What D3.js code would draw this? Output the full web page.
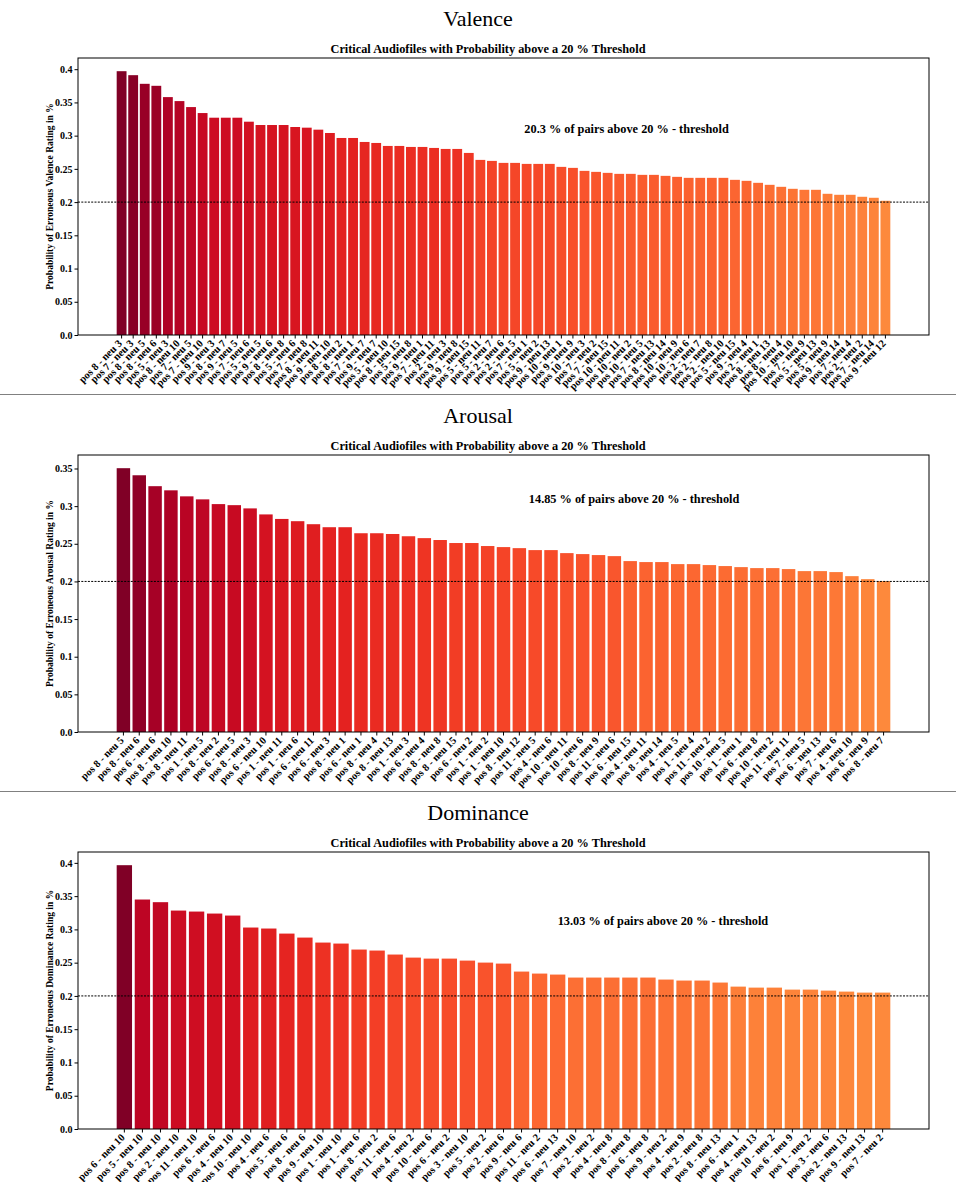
<!DOCTYPE html>
<html><head><meta charset="utf-8">
<script src="https://cdn.jsdelivr.net/npm/d3@7"></script>
<style>
body{margin:0;background:#fff}
text{font-family:"Liberation Serif","Times New Roman",serif}
</style>
</head><body>
<svg id="chart" width="956" height="1182"></svg>
<script>
// ---------------- DATA ----------------
const valenceLabels = ["pos 8 - neu 3","pos 7 - neu 3","pos 8 - neu 5","pos 8 - neu 6","pos 5 - neu 3","pos 8 - neu 10","pos 7 - neu 5","pos 7 - neu 10","pos 9 - neu 3","pos 8 - neu 7","pos 9 - neu 5","pos 7 - neu 6","pos 5 - neu 5","pos 9 - neu 6","pos 8 - neu 8","pos 5 - neu 6","pos 7 - neu 8","pos 8 - neu 11","pos 9 - neu 10","pos 8 - neu 2","pos 8 - neu 1","pos 7 - neu 7","pos 9 - neu 7","pos 5 - neu 10","pos 8 - neu 15","pos 5 - neu 8","pos 9 - neu 1","pos 7 - neu 11","pos 2 - neu 3","pos 9 - neu 8","pos 9 - neu 15","pos 5 - neu 11","pos 5 - neu 7","pos 2 - neu 6","pos 2 - neu 5","pos 7 - neu 1","pos 5 - neu 2","pos 9 - neu 13","pos 10 - neu 1","pos 9 - neu 9","pos 10 - neu 3","pos 7 - neu 2","pos 7 - neu 15","pos 10 - neu 11","pos 10 - neu 2","pos 10 - neu 5","pos 7 - neu 13","pos 8 - neu 14","pos 10 - neu 9","pos 10 - neu 6","pos 2 - neu 7","pos 2 - neu 8","pos 2 - neu 10","pos 5 - neu 15","pos 9 - neu 4","pos 2 - neu 1","pos 8 - neu 13","pos 8 - neu 4","pos 10 - neu 10","pos 7 - neu 9","pos 5 - neu 13","pos 5 - neu 9","pos 9 - neu 14","pos 7 - neu 4","pos 2 - neu 2","pos 7 - neu 14","pos 9 - neu 12"];
const valenceValues = [0.397,0.391,0.378,0.375,0.358,0.352,0.343,0.334,0.327,0.327,0.327,0.321,0.316,0.316,0.316,0.313,0.312,0.309,0.304,0.2965,0.2965,0.2905,0.289,0.2845,0.2845,0.283,0.283,0.2815,0.280,0.280,0.274,0.2635,0.262,0.259,0.259,0.2575,0.2575,0.2575,0.253,0.2515,0.247,0.2455,0.244,0.2425,0.2425,0.241,0.241,0.2395,0.238,0.2365,0.2365,0.2365,0.2365,0.2335,0.232,0.229,0.226,0.223,0.220,0.2185,0.2185,0.2125,0.211,0.211,0.208,0.2065,0.202];

const arousalLabels = ["pos 8 - neu 5","pos 8 - neu 6","pos 6 - neu 6","pos 8 - neu 10","pos 8 - neu 11","pos 1 - neu 5","pos 8 - neu 2","pos 6 - neu 5","pos 8 - neu 3","pos 6 - neu 10","pos 1 - neu 11","pos 1 - neu 6","pos 6 - neu 11","pos 6 - neu 3","pos 8 - neu 1","pos 6 - neu 1","pos 8 - neu 4","pos 8 - neu 13","pos 1 - neu 3","pos 6 - neu 4","pos 8 - neu 8","pos 8 - neu 15","pos 6 - neu 2","pos 1 - neu 2","pos 1 - neu 10","pos 8 - neu 12","pos 11 - neu 5","pos 4 - neu 6","pos 10 - neu 11","pos 10 - neu 6","pos 8 - neu 9","pos 11 - neu 6","pos 6 - neu 15","pos 4 - neu 11","pos 8 - neu 14","pos 4 - neu 5","pos 1 - neu 4","pos 11 - neu 2","pos 10 - neu 5","pos 1 - neu 1","pos 6 - neu 8","pos 10 - neu 2","pos 11 - neu 11","pos 7 - neu 5","pos 6 - neu 13","pos 7 - neu 6","pos 4 - neu 10","pos 6 - neu 9","pos 8 - neu 7"];
const arousalValues = [0.3504,0.341,0.3265,0.321,0.313,0.309,0.3027,0.3013,0.297,0.289,0.283,0.280,0.276,0.272,0.272,0.264,0.264,0.263,0.260,0.2575,0.255,0.251,0.251,0.247,0.2456,0.2442,0.2416,0.2416,0.2376,0.2363,0.235,0.2336,0.227,0.2257,0.2257,0.223,0.223,0.2217,0.2204,0.219,0.2177,0.2177,0.2164,0.2137,0.2137,0.2124,0.207,0.203,0.2004];

const dominanceLabels = ["pos 6 - neu 10","pos 5 - neu 10","pos 8 - neu 10","pos 2 - neu 10","pos 11 - neu 10","pos 6 - neu 6","pos 4 - neu 10","pos 10 - neu 10","pos 4 - neu 6","pos 5 - neu 6","pos 8 - neu 6","pos 9 - neu 10","pos 1 - neu 10","pos 1 - neu 6","pos 8 - neu 2","pos 11 - neu 6","pos 4 - neu 2","pos 10 - neu 6","pos 6 - neu 2","pos 3 - neu 10","pos 5 - neu 2","pos 2 - neu 6","pos 9 - neu 6","pos 11 - neu 2","pos 6 - neu 13","pos 7 - neu 10","pos 2 - neu 2","pos 4 - neu 8","pos 8 - neu 8","pos 6 - neu 8","pos 9 - neu 2","pos 4 - neu 9","pos 2 - neu 8","pos 8 - neu 13","pos 6 - neu 1","pos 4 - neu 13","pos 10 - neu 2","pos 6 - neu 9","pos 1 - neu 2","pos 3 - neu 6","pos 2 - neu 13","pos 9 - neu 13","pos 7 - neu 2"];
const dominanceValues = [0.3965,0.3449,0.3409,0.3283,0.3268,0.3238,0.3208,0.3028,0.3013,0.2937,0.2877,0.2802,0.2787,0.2697,0.2682,0.2622,0.2576,0.2561,0.2561,0.2531,0.2501,0.2486,0.2366,0.2336,0.2321,0.2276,0.2276,0.2276,0.2276,0.2276,0.2246,0.2231,0.2231,0.2201,0.214,0.2125,0.2125,0.2095,0.2095,0.208,0.2065,0.205,0.205];

const valenceTicks = [0,0.05,0.1,0.15,0.2,0.25,0.3,0.35,0.4];
const arousalTicks = [0,0.05,0.1,0.15,0.2,0.25,0.3,0.35];
const dominanceTicks = [0,0.05,0.1,0.15,0.2,0.25,0.3,0.35,0.4];

const panelTitles = ["Valence","Arousal","Dominance"];
const percentAbove = ["20.3","14.85","13.03"];
const threshold = 0.2;
const subtitle = "Critical Audiofiles with Probability above a 20 % Threshold";

// ---------------- LAYOUT ----------------
const svg = d3.select("#chart");
const W = 956;
const panels = [
  {title:panelTitles[0], labels:valenceLabels, values:valenceValues, ticks:valenceTicks, pct:percentAbove[0], annot:[34.8,0.304]},
  {title:panelTitles[1], labels:arousalLabels, values:arousalValues, ticks:arousalTicks, pct:percentAbove[1], annot:[25.6,0.304]},
  {title:panelTitles[2], labels:dominanceLabels, values:dominanceValues, ticks:dominanceTicks, pct:percentAbove[2], annot:[24.0,0.307]}
];
const panelH = 397;
const fmt = v => v === 0 ? "0.0" : String(+v.toFixed(2));
const barW = 0.85;

panels.forEach((p, k) => {
  const oy = k * panelH;
  const left = 78, right = 929, top = 58 + oy, bottom = 335 + oy;
  const g = svg.append("g");

  g.append("text").attr("x", W/2).attr("y", 26 + oy).attr("text-anchor","middle")
    .style("font-size","22px").text(p.title);
  g.append("text").attr("x", 488).attr("y", 53 + oy).attr("text-anchor","middle")
    .style("font-size","12.3px").style("font-weight","bold").text(subtitle);

  const span = right - left;
  const m = span * 0.05 / 1.1;
  const x = d3.scaleBand().domain(d3.range(p.values.length))
    .range([left + m, right - m]).paddingInner(1 - barW).paddingOuter(0);
  const ymax = d3.max(p.values) * 1.05;
  const y = d3.scaleLinear().domain([0, ymax]).range([bottom, top]);

  const vmin = d3.min(p.values), vmax = d3.max(p.values);
  const col = v => d3.interpolateYlOrRd(0.5 + 0.5 * (v - vmin) / (vmax - vmin));

  g.selectAll("rect.bar").data(p.values).join("rect").attr("class","bar")
    .attr("x", (d,i) => x(i)).attr("width", x.bandwidth())
    .attr("y", d => y(d)).attr("height", d => bottom - y(d))
    .attr("fill", d => col(d));

  // threshold line
  g.append("line").attr("x1", left).attr("x2", right)
    .attr("y1", y(threshold)).attr("y2", y(threshold))
    .attr("stroke","#000").attr("stroke-width",1).attr("stroke-dasharray","2,1.3");

  // frame
  g.append("rect").attr("x", left).attr("y", top).attr("width", right-left).attr("height", bottom-top)
    .attr("fill","none").attr("stroke","#000").attr("stroke-width",1);

  // y axis
  const ya = g.append("g").attr("transform", `translate(${left},0)`)
    .call(d3.axisLeft(y).tickValues(p.ticks).tickFormat(fmt).tickSize(3.5).tickPadding(2));
  ya.attr("font-family", null);
  ya.select(".domain").remove();
  ya.selectAll("text").style("font-size","10px").style("font-weight","bold")
    .style("font-family",'"Liberation Serif",serif');

  // x axis
  const xa = g.append("g").attr("transform", `translate(0,${bottom})`)
    .call(d3.axisBottom(x).tickFormat(i => p.labels[i]).tickSize(3.5));
  xa.attr("font-family", null);
  xa.select(".domain").remove();
  xa.selectAll("text").style("font-size","10.5px").style("font-weight","bold")
    .style("font-family",'"Liberation Serif",serif')
    .attr("text-anchor","end").attr("x",0).attr("y",0).attr("dy",0)
    .attr("transform","translate(1,9) rotate(-45)");

  // y label
  g.append("text").attr("transform", `translate(53,${(top+bottom)/2}) rotate(-90)`)
    .attr("text-anchor","middle").style("font-size","9.5px").style("font-weight","bold")
    .text(`Probability of Erroneous ${p.title} Rating in %`);

  // annotation
  g.append("text").attr("x", x(0) + x.bandwidth()/2 + p.annot[0]*x.step()).attr("y", y(p.annot[1]))
    .style("font-size","12.3px").style("font-weight","bold")
    .text(`${p.pct} % of pairs above 20 % - threshold`);

  // separator
  if (k < 2) {
    g.append("line").attr("x1",0).attr("x2",W).attr("y1",394.5+oy).attr("y2",394.5+oy)
      .attr("stroke","#808080").attr("stroke-width",1);
  }
});
</script>
</body></html>
